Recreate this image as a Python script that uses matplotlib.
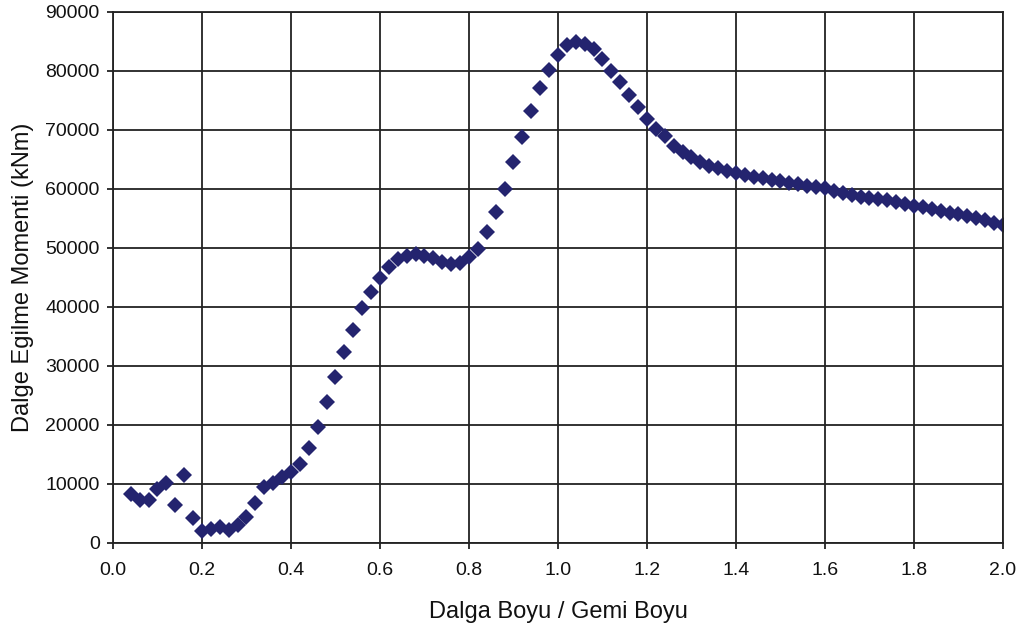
import numpy as np
import matplotlib
matplotlib.use("Agg")
from matplotlib import pyplot as plt

# Dalga boyu / gemi boyu orani
oran = np.round(np.arange(0.04, 2.0001, 0.02), 2)

# Dalga egilme momenti (kNm)
moment = [
    8250, 7200, 7300, 9100, 10100, 6400, 11500, 4300, 2100, 2400,
    2750, 2250, 3000, 4450, 6850, 9450, 10100, 11100, 11950, 13350,
    16100, 19600, 23850, 28200, 32400, 36100, 39800, 42600, 44850, 46700,
    48100, 48650, 49000, 48650, 48250, 47700, 47300, 47400, 48400, 49900,
    52650, 56100, 60000, 64600, 68850, 73250, 77050, 80150, 82700, 84400,
    84950, 84500, 83650, 82050, 80050, 78050, 75900, 73850, 71900, 70200,
    68900, 67350, 66300, 65450, 64500, 63950, 63600, 63050, 62650, 62350,
    62100, 61800, 61550, 61350, 61050, 60800, 60500, 60300, 60100, 59700,
    59350, 59000, 58700, 58400, 58300, 58150, 57850, 57450, 57100, 56900,
    56550, 56250, 56000, 55700, 55400, 55150, 54750, 54300, 53900,
]

xticks = np.round(np.arange(0, 2.01, 0.2), 1)
yticks = np.arange(0, 90001, 10000)

plt.rcParams['font.family'] = ['Liberation Sans', 'DejaVu Sans']

fig = plt.figure(figsize=(10.29, 6.27), dpi=100)
ax = fig.add_axes([0.1098, 0.134, 0.8649, 0.847])

ax.plot(oran, moment, linestyle='none', marker='D', markersize=8,
        color='#24246f', markeredgewidth=0)

ax.set_xlim(0, 2.0)
ax.set_ylim(0, 90000)
ax.set_xticks(xticks)
ax.set_xticklabels([f"{v:.1f}" for v in xticks])
ax.set_yticks(yticks)
ax.grid(True, color='#222222', linewidth=1.3)
for s in ax.spines.values():
    s.set_color('#222222')
    s.set_linewidth(1.3)
ax.tick_params(labelsize=14, color='#222222', length=4.5, width=1.3,
               labelcolor='#111111')
ax.tick_params(axis='x', pad=9)
ax.tick_params(axis='y', pad=5)

ax.set_xlabel('Dalga Boyu / Gemi Boyu', fontsize=17, labelpad=16,
              color='#111111')
ax.set_ylabel('Dalge Egilme Momenti (kNm)', fontsize=17, labelpad=8,
              color='#111111')

fig.savefig('out.png', dpi=100)
